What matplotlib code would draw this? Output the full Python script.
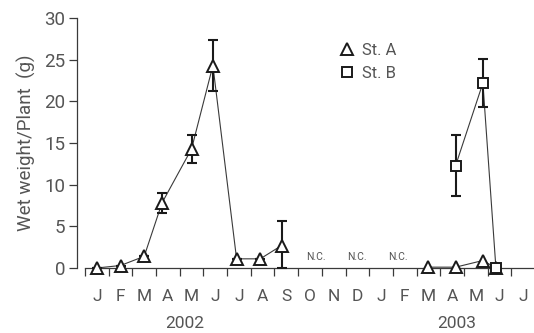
import numpy as np
import matplotlib
matplotlib.use('Agg')
import matplotlib.pyplot as plt
import matplotlib.transforms as mtransforms
from matplotlib.lines import Line2D

plt.rcParams['font.family'] = ['Roboto', 'DejaVu Sans']

# month labels, Jan 2002 .. Jul 2003 (one per month slot)
months = ['J', 'F', 'M', 'A', 'M', 'J', 'J', 'A', 'S', 'O', 'N', 'D',
          'J', 'F', 'M', 'A', 'M', 'J', 'J']
years = ['2002', '2003']
year_pos = [4.2, 15.7]

# St. A (x in months from 1 Jan 2002), split by the not-collected gap
a1_x = [0.5, 1.5, 2.5, 3.25, 4.5, 5.4, 6.4, 7.4, 8.3]
a1_y = [0.0, 0.3, 1.4, 7.8, 14.3, 24.3, 1.1, 1.1, 2.7]
a1_lo = [0, 0, 0, 1.2, 1.7, 3.1, 0, 0, 2.7]
a1_hi = [0, 0, 0, 1.2, 1.7, 3.1, 0, 0, 3.0]
a2_x = [14.5, 15.65, 16.8, 17.35]
a2_y = [0.1, 0.1, 0.9, 0.0]

# St. B
b_x = [15.65, 16.8, 17.35]
b_y = [12.3, 22.2, 0.0]
b_lo = [3.65, 2.85, 0]
b_hi = [3.65, 2.85, 0]

# not-collected notes
nc_x = [9.77, 11.49, 13.22]
nc_y = 1.3

txt = '#555555'
ln = '#3a3a3a'
mk = '#1a1a1a'

fig = plt.figure(figsize=(5.34, 3.33), dpi=100)
ax = fig.add_axes([85/534, 65/333, 450/534, 250/333])

def errs(xs, ys, lo, hi):
    ax.errorbar(xs, ys, yerr=[lo, hi], fmt='none', ecolor=mk, elinewidth=1.5,
                capsize=3.5, capthick=1.5, zorder=3, clip_on=False)

ax.plot(a1_x, a1_y, '-', color=ln, lw=0.8, zorder=2, clip_on=False)
errs(a1_x, a1_y, a1_lo, a1_hi)
ax.plot(a1_x, a1_y, '^', ms=9, mfc='white', mec=mk, mew=1.4, zorder=4, clip_on=False)

ax.plot(a2_x, a2_y, '-', color=ln, lw=0.8, zorder=2, clip_on=False)
ax.plot(a2_x, a2_y, '^', ms=9, mfc='white', mec=mk, mew=1.4, zorder=4, clip_on=False)

ax.plot(b_x, b_y, '-', color=ln, lw=0.8, zorder=2, clip_on=False)
errs(b_x, b_y, b_lo, b_hi)
ax.plot(b_x, b_y, 's', ms=7, mfc='white', mec=mk, mew=1.4, zorder=5, clip_on=False)

for x in nc_x:
    ax.text(x, nc_y, 'N.C.', ha='center', va='center', fontsize=7.5, color=txt)

ax.set_xlim(0, 19)
ax.set_ylim(0, 30)
for s in ['top', 'right']:
    ax.spines[s].set_visible(False)
ax.spines['left'].set_position(('outward', 6))
for s in ['left', 'bottom']:
    ax.spines[s].set_color(ln)
    ax.spines[s].set_linewidth(0.9)

ax.set_yticks(np.arange(0, 31, 5))
ax.tick_params(axis='y', length=6, width=0.9, color=ln, labelsize=13.5,
               labelcolor=txt, pad=2)
ax.set_xticks(np.arange(0, 19))
ax.set_xticklabels([])
ax.set_xticks(np.arange(len(months)) + 0.5, minor=True)
ax.set_xticklabels(months, minor=True)
ax.tick_params(axis='x', which='major', length=6, width=0.9, color=ln)
ax.tick_params(axis='x', which='minor', length=0, labelsize=12.5,
               labelcolor=txt, pad=15)

trans = mtransforms.blended_transform_factory(ax.transData, ax.transAxes)
for yr, xp in zip(years, year_pos):
    ax.text(xp, -0.22, yr, transform=trans, ha='center', va='center',
            fontsize=12.5, color=txt)

ax.set_ylabel('Wet weight/Plant  (g)', fontsize=13.5, color=txt, labelpad=6)

handles = [Line2D([], [], ls='none', marker='^', ms=9, mfc='white', mec=mk, mew=1.4),
           Line2D([], [], ls='none', marker='s', ms=7, mfc='white', mec=mk, mew=1.4)]
ax.legend(handles, ['St. A', 'St. B'], loc='upper left', bbox_to_anchor=(0.53, 0.96),
          frameon=False, handlelength=1.0, handletextpad=0.4, labelspacing=0.45,
          fontsize=12, labelcolor=txt)

fig.savefig('out.png', dpi=100)
